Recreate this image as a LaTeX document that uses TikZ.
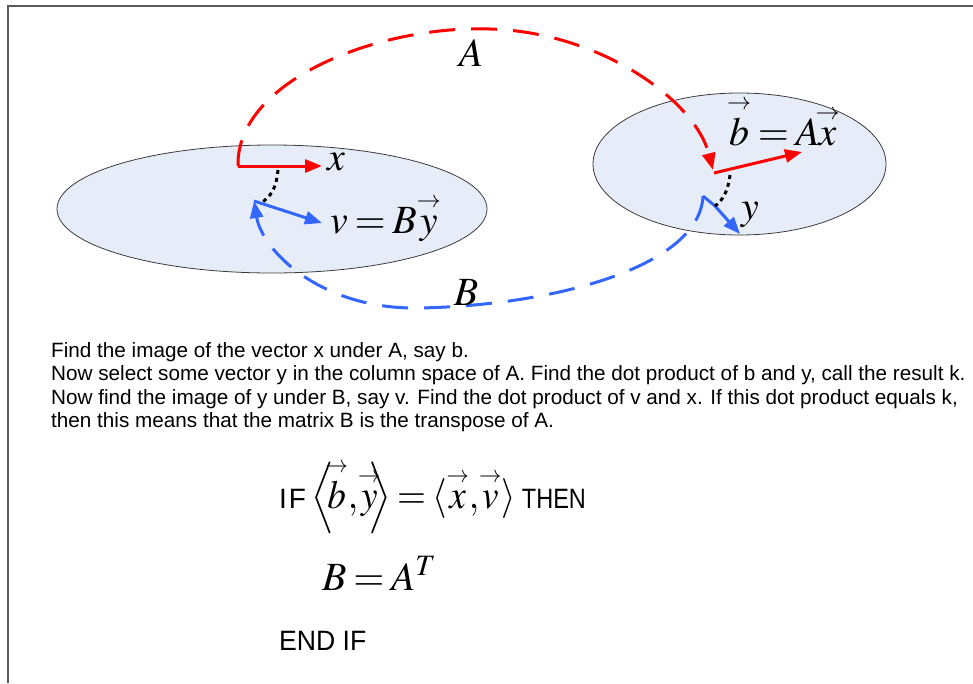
\documentclass[tikz,border=0pt]{standalone}
\usepackage{mathptmx}
\usepackage{amsmath}
\usepackage[no-math]{fontspec}
\setsansfont{Liberation Sans}
\usepackage{graphicx}
\usetikzlibrary{arrows.meta}
\definecolor{ellfill}{RGB}{231,237,248}
\definecolor{ellline}{RGB}{60,60,60}
\definecolor{vred}{RGB}{255,0,0}
\definecolor{vblue}{RGB}{51,102,255}
\definecolor{framec}{RGB}{90,90,90}
\newcommand{\varr}[1]{\mathord{\overset{\scriptscriptstyle\rightarrow}{#1}}}
\begin{document}
\thickmuskip=3mu plus 2mu
\begin{tikzpicture}[x=1pt,y=-1pt,
  vecarrow/.style={line width=3pt,-{Triangle[length=17pt,width=13pt]}},
  arcline/.style={line width=3pt,dash pattern=on 26pt off 16pt,-{Triangle[length=17pt,width=13pt]}},
  dotline/.style={black,line width=3pt,dash pattern=on 4pt off 4pt},
  lbl/.style={inner sep=0pt,font=\fontsize{40}{48}\selectfont},
  txt/.style={inner sep=0pt,font=\sffamily\fontsize{20.7}{23.5}\selectfont,align=left},
  sftxt/.style={inner sep=0pt,font=\sffamily\fontsize{28}{30}\selectfont}]
\useasboundingbox (0,0) rectangle (973,683);
\draw[framec,line width=1.5pt] (8,683) -- (8,6) -- (973,6);
% sets
\path[fill=ellfill,draw=ellline,line width=0.8pt] (272,209) ellipse [x radius=215, y radius=64];
\path[fill=ellfill,draw=ellline,line width=0.8pt] (739.5,164) ellipse [x radius=146.5, y radius=71];
% coordinates
\coordinate (xt) at (238,166); \coordinate (xh) at (322,166);
\coordinate (bt) at (714,173); \coordinate (bh) at (802,152);
\coordinate (yt) at (715,206); \coordinate (yh) at (740,234);
\coordinate (vt) at (254,201); \coordinate (vh) at (322,223);
\coordinate (atop) at (490,29); \coordinate (aend) at (713,170);
\coordinate (bhook) at (703,196); \coordinate (bbot) at (420,308);
\coordinate (dx) at (278,170); \coordinate (dxe) at (261,203);
\coordinate (db) at (730,175);
% A arc
\draw[vred,arcline] (xt) .. controls (236,80) and (380,25) .. (atop) .. controls (600,32) and (695,100) .. (aend);
% B arc
\draw[vblue,line width=3pt] (yt) -- (bhook);
\draw[vblue,arcline] (bhook) .. controls (700,265) and (560,305) .. (bbot) .. controls (320,310) and (262,250) .. (vt);
% vectors
\draw[vred,vecarrow] (xt) -- (xh);
\draw[vred,vecarrow] (bt) -- (bh);
\draw[vblue,vecarrow] (yt) -- (yh);
\draw[vblue,vecarrow] (vt) -- (vh);
% dotted correspondences
\draw[dotline] (dx) .. controls (276,190) and (270,197) .. (dxe);
\draw[dotline] (db) .. controls (728,192) and (722,201) .. (yt);
% labels
\node[lbl] (lA) at (471,53) {$A$};
\node[lbl] (lB) at (466,293) {$B$};
\node[lbl] (lx) at (336,162) {$x$};
\node[lbl,anchor=base west] (lv) at (330,233) {$v=B\varr{y}$};
\node[lbl,anchor=base west] (lb) at (727,145) {$\varr{b}=A\!\varr{x}$};
\node[lbl,anchor=base west] (ly) at (741,219) {$y$};
% paragraph
\node[txt,anchor=north west] (para) at (51,342) {Find the image of the vector x under A, say b.\\
Now select some vector y in the column space of A. Find the dot product of b and y, call the result k.\\
Now find the image of y under B, say v. Find the dot product of v and x. If this dot product equals k,\\
then this means that the matrix B is the transpose of A.};
% formulas
\node[sftxt,anchor=base west] (f1) at (279,508) {I\hspace{2pt}F\hspace{5pt}\fontsize{40}{48}\selectfont\scalebox{0.93}[1]{$\left\langle\rule[-20pt]{0pt}{62pt}\mkern-4mu\varr{b}{,}\varr{y}\mkern-6mu\right\rangle=\langle\varr{x}{,}\varr{v}\rangle$}\hspace{6pt}\scalebox{0.84}[1]{\sffamily\fontsize{28}{30}\selectfont THEN}};
\node[lbl,anchor=base west] (f2) at (322,590) {$B=A^{T}$};
\node[sftxt,anchor=base west] (f3) at (279,650) {\scalebox{0.95}[1]{END IF}};
\end{tikzpicture}
\end{document}
